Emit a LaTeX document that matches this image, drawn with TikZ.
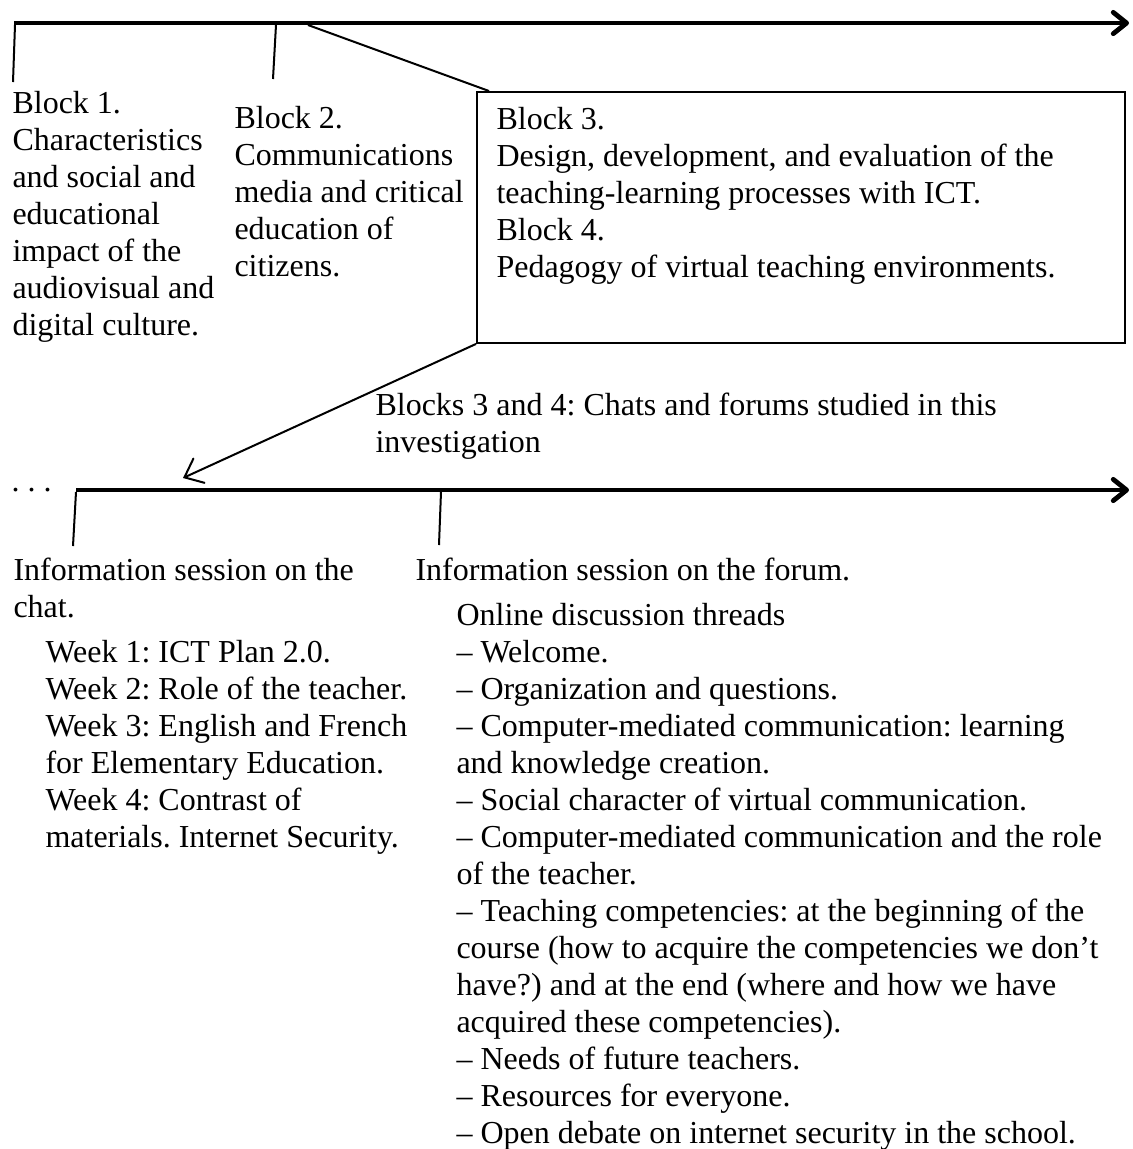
\documentclass[tikz,border=0pt]{standalone}
\usepackage{fontspec}
\setmainfont{Liberation Serif}
\usetikzlibrary{arrows.meta}
\frenchspacing

\begin{document}
\begin{tikzpicture}[x=0.375pt, y=-0.375pt,
		timeline/.style={line width=1.8pt, -{Straight Barb[length=5pt,width=8pt,line cap=round,line join=round]}},
		tick/.style={line width=0.75pt},
		txt/.style={inner sep=0pt, anchor=north west, align=left, font=\fontsize{12}{13.875}\selectfont}]
		\useasboundingbox (0,0) rectangle (1133,1149);
		% first time line: the four blocks
		\coordinate (t1s) at (14,23);
		\coordinate (t1e) at (1129,23);
		\draw[timeline] (t1s) -- (t1e);
		\coordinate (k1a) at (15,25); \coordinate (k1b) at (13,82);
		\coordinate (k2a) at (276,25); \coordinate (k2b) at (273,79);
		\coordinate (k3a) at (308,25); \coordinate (k3b) at (489,91);
		\draw[tick] (k1a) -- (k1b);
		\draw[tick] (k2a) -- (k2b);
		\draw[tick] (k3a) -- (k3b);
		\node[txt] (b1) at (12,91) {Block 1.\\Characteristics\\and social and\\educational\\impact of the\\audiovisual and\\digital culture.};
		\node[txt] (b2) at (234,106) {Block 2.\\Communications\\media and critical\\education of\\citizens.};
		\node[draw, line width=0.75pt, inner sep=0pt, anchor=north west, minimum width=243pt, minimum height=94.1pt] (box3) at (476,91) {};
		\node[txt] (b3) at (496,107) {Block 3.\\Design, development, and evaluation of the\\teaching-learning processes with ICT.\\Block 4.\\Pedagogy of virtual teaching environments.};
		% zoom into blocks 3 and 4
		\coordinate (z) at (183,478);
		\draw[tick, -{Straight Barb[length=6pt,width=10pt,line cap=round]}] (box3.south west) -- (z);
		\node[txt] (lbl) at (375,392) {Blocks 3 and 4: Chats and forums studied in this\\investigation};
		% second time line: chats and forums
		\node[font=\fontsize{12}{13.875}\selectfont, inner sep=0pt, anchor=base west] (dots) at (11,491) {. . .};
		\coordinate (t2s) at (76,490);
		\coordinate (t2e) at (1129,490);
		\draw[timeline] (t2s) -- (t2e);
		\coordinate (k4a) at (76,492); \coordinate (k4b) at (73,546);
		\coordinate (k5a) at (441,492); \coordinate (k5b) at (439,545);
		\draw[tick] (k4a) -- (k4b);
		\draw[tick] (k5a) -- (k5b);
		\node[txt] (chat) at (13,557) {Information session on the\\chat.};
		\node[txt] (forum) at (415,557) {Information session on the forum.};
		\node[txt] (weeks) at (45,640) {Week 1: ICT Plan 2.0.\\Week 2: Role of the teacher.\\Week 3: English and French\\for Elementary Education.\\Week 4: Contrast of\\materials. Internet Security.};
		\node[txt] (threads) at (456,603) {Online discussion threads\\-- Welcome.\\-- Organization and questions.\\-- Computer-mediated communication: learning\\and knowledge creation.\\-- Social character of virtual communication.\\-- Computer-mediated communication and the role\\of the teacher.\\-- Teaching competencies: at the beginning of the\\course (how to acquire the competencies we don't\\have?) and at the end (where and how we have\\acquired these competencies).\\-- Needs of future teachers.\\-- Resources for everyone.\\-- Open debate on internet security in the school.};
	\end{tikzpicture}
\end{document}
